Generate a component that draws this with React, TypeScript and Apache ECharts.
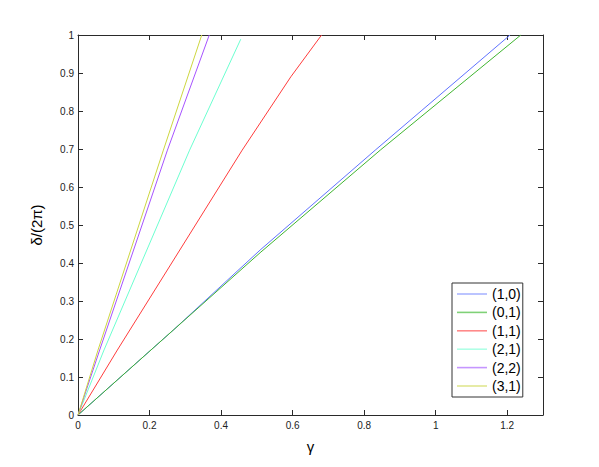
import React, { useEffect, useRef } from "react";
import * as echarts from "echarts";

const seriesNames = ["(1,0)", "(0,1)", "(1,1)", "(2,1)", "(2,2)", "(3,1)"];
const seriesColors = ["#5f72ff", "#3fb52f", "#ff3c3c", "#6cffd0", "#a653ff", "#cdd640"];
const legendColors = ["#aab5ff", "#7fd177", "#ff8a8a", "#b0ffe6", "#c596ff", "#e0e690"];

const s10: number[][] = [[0, 0], [0.267, 0.224], [0.509, 0.434], [0.831, 0.697], [1.208, 1]];
const s01: number[][] = [[0, 0], [0.509, 0.427], [0.845, 0.697], [1.238, 1]];
const s11: number[][] = [[0, 0], [0.11, 0.171], [0.459, 0.697], [0.595, 0.89], [0.681, 1]];
const s21: number[][] = [[0, 0], [0.0727, 0.171], [0.312, 0.697], [0.455, 0.989]];
const s22: number[][] = [[0, 0], [0.0606, 0.171], [0.25, 0.697], [0.367, 1]];
const s31: number[][] = [[0, 0], [0.056, 0.171], [0.2387, 0.697], [0.346, 1]];

const seriesData = [s10, s01, s11, s21, s22, s31];

const FONT = "'Liberation Sans', Arial, Helvetica, sans-serif";
const AXIS_COLOR = "#2a2a2a";
const LINE_ICON = "path://M0,0 L30,0 L30,1.6 L0,1.6 Z";

export default function App() {
  const ref = useRef<HTMLDivElement>(null);
  useEffect(() => {
    if (!ref.current) return;
    const chart = echarts.init(ref.current, undefined, { renderer: "svg" });
    const xFmt = (v: number) => {
      const r = Math.round(v * 10);
      if (r % 2 !== 0) return "";
      return String(r / 10);
    };
    const axisCommonX = {
      type: "value" as const,
      min: 0,
      max: 1.3,
      interval: 0.2,
      splitLine: { show: false },
      axisLine: { show: true, onZero: false, lineStyle: { color: AXIS_COLOR, width: 1 } },
      axisTick: { show: true, inside: true, length: 5, lineStyle: { color: AXIS_COLOR } },
    };
    const axisCommonY = {
      type: "value" as const,
      min: 0,
      max: 1,
      interval: 0.1,
      splitLine: { show: false },
      axisLine: { show: true, onZero: false, lineStyle: { color: AXIS_COLOR, width: 1 } },
      axisTick: { show: true, inside: true, length: 5, lineStyle: { color: AXIS_COLOR } },
    };
    chart.setOption({
      animation: false,
      backgroundColor: "#ffffff",
      textStyle: { fontFamily: FONT },
      grid: { left: 78, top: 35, width: 465, height: 380, containLabel: false },
      legend: {
        orient: "vertical",
        left: 452,
        top: 283,
        padding: [4, 2, 4, 5],
        itemGap: 4.4,
        itemWidth: 30,
        itemHeight: 14,
        itemTextGap: 4,
        symbolKeepAspect: true,
        borderColor: "#333",
        borderWidth: 1,
        backgroundColor: "#fff",
        itemStyle: { borderWidth: 0 },
        textStyle: { fontSize: 14, color: "#000", fontFamily: FONT },
        data: seriesNames.map((name, i) => ({
          name,
          icon: LINE_ICON,
          itemStyle: { color: legendColors[i], borderWidth: 0 },
        })),
      },
      xAxis: [
        {
          ...axisCommonX,
          position: "bottom",
          name: "γ",
          nameLocation: "middle",
          nameGap: 24,
          nameTextStyle: { fontSize: 15, color: "#000", fontFamily: FONT },
          axisLabel: { fontSize: 10, color: "#222", margin: 5, formatter: xFmt, fontFamily: FONT },
        },
        {
          ...axisCommonX,
          position: "top",
          axisLabel: { show: false },
        },
      ],
      yAxis: [
        {
          ...axisCommonY,
          position: "left",
          name: "δ/(2π)",
          nameLocation: "middle",
          nameGap: 34,
          nameRotate: 90,
          nameTextStyle: { fontSize: 15, color: "#000", fontFamily: FONT },
          axisLabel: { fontSize: 10, color: "#222", margin: 4, fontFamily: FONT },
        },
        {
          ...axisCommonY,
          position: "right",
          axisLabel: { show: false },
        },
      ],
      series: seriesNames.map((name, i) => ({
        name,
        type: "line",
        xAxisIndex: 0,
        yAxisIndex: 0,
        data: seriesData[i],
        symbol: "none",
        showSymbol: false,
        smooth: false,
        color: seriesColors[i],
        lineStyle: { width: 1, color: seriesColors[i] },
        itemStyle: { color: seriesColors[i] },
      })),
    });
    return () => chart.dispose();
  }, []);
  return (
    <div
      ref={ref}
      style={{ position: "fixed", left: 0, top: 0, width: 599, height: 467, background: "#fff" }}
    />
  );
}
